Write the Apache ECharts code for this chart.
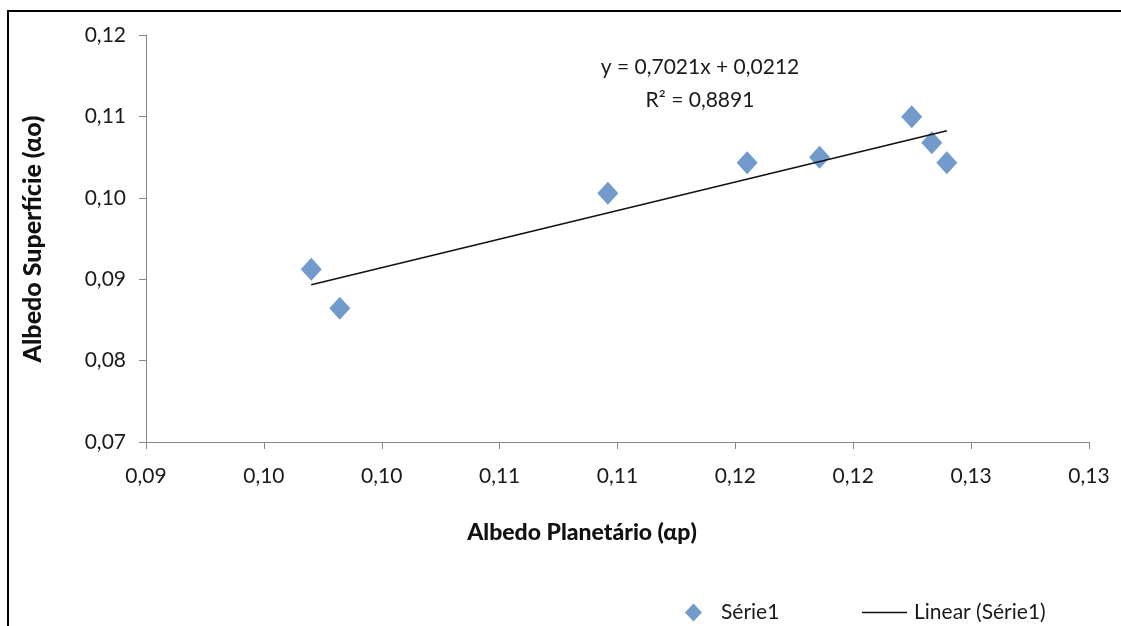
<!DOCTYPE html>
<html>
<head>
<meta charset="utf-8">
<script src="https://cdn.jsdelivr.net/npm/echarts@6/dist/echarts.min.js"></script>
<style>
  html, body { margin: 0; padding: 0; background: #fff; }
  #chart { width: 1121px; height: 626px; }
</style>
</head>
<body>
<div id="chart"></div>
<script>
// Planetary albedo (x) vs surface albedo (y)
const albedoPlanetario = [0.09701, 0.09822, 0.10959, 0.11550, 0.11857, 0.12248, 0.12333, 0.12397];
const albedoSuperficie = [0.09122, 0.08643, 0.10055, 0.10431, 0.10498, 0.10996, 0.10677, 0.10431];

// Linear trend: y = slope * x + intercept, with R²
const trendSlope = 0.7021;
const trendIntercept = 0.0212;
const trendR2 = 0.8891;

// Tick labels as printed (two decimals, comma separator)
const xTickLabels = ['0,09', '0,10', '0,10', '0,11', '0,11', '0,12', '0,12', '0,13', '0,13'];
const yTickLabels = ['0,07', '0,08', '0,09', '0,10', '0,11', '0,12'];

const FONT = 'Lato, "Open Sans", sans-serif';
const fmt = (v) => v.toFixed(4).replace('.', ',');

const points = albedoPlanetario.map((x, i) => [x, albedoSuperficie[i]]);
const xMin = Math.min(...albedoPlanetario);
const xMax = Math.max(...albedoPlanetario);
const trendLine = [xMin, xMax].map(x => [x, trendSlope * x + trendIntercept]);

const chart = echarts.init(document.getElementById('chart'), null, { renderer: 'canvas' });

const axisCommon = {
  axisLine: { show: true, onZero: false, lineStyle: { color: '#868686', width: 1 } },
  axisTick: { show: true, inside: false, length: 7, lineStyle: { color: '#868686' } },
  splitLine: { show: false },
  axisLabel: { color: '#1a1a1a', fontFamily: FONT, fontSize: 21 }
};

chart.setOption({
  animation: false,
  backgroundColor: '#fff',
  grid: { left: 146, right: 32, top: 35, bottom: 184, containLabel: false },
  xAxis: Object.assign({}, axisCommon, {
    type: 'value', min: 0.09, max: 0.13, interval: 0.005,
    axisLabel: Object.assign({}, axisCommon.axisLabel, {
      margin: 24,
      formatter: (v, i) => xTickLabels[i]
    })
  }),
  yAxis: Object.assign({}, axisCommon, {
    type: 'value', min: 0.07, max: 0.12, interval: 0.01,
    axisLabel: Object.assign({}, axisCommon.axisLabel, {
      margin: 20,
      formatter: (v, i) => yTickLabels[i]
    })
  }),
  legend: [
    {
      data: [{ name: 'Série1', icon: 'diamond' }],
      left: 680, top: 597,
      itemWidth: 17, itemHeight: 18,
      textStyle: { fontFamily: FONT, fontSize: 21, color: '#1a1a1a', padding: [0, 0, 0, 14] }
    },
    {
      data: [{ name: 'Linear (Série1)', icon: 'rect' }],
      left: 857, top: 597,
      itemWidth: 45, itemHeight: 1.5,
      textStyle: { fontFamily: FONT, fontSize: 21, color: '#1a1a1a', padding: [0, 0, 0, 2] }
    }
  ],
  series: [
    {
      name: 'Série1',
      type: 'scatter',
      symbol: 'diamond',
      symbolSize: [21, 23],
      itemStyle: { color: '#4F81BD' },
      data: points,
      z: 2
    },
    {
      name: 'Linear (Série1)',
      type: 'line',
      symbol: 'none',
      lineStyle: { color: '#111', width: 1.5 },
      itemStyle: { color: '#111' },
      data: trendLine,
      z: 3
    }
  ],
  graphic: [
    {
      type: 'rect',
      shape: { x: 8, y: 11, width: 1200, height: 700 },
      style: { fill: 'none', stroke: '#000', lineWidth: 2 },
      silent: true
    },
    {
      type: 'text',
      x: 700, y: 67,
      style: {
        text: 'y = ' + fmt(trendSlope) + 'x + ' + fmt(trendIntercept),
        font: '21px ' + FONT, fill: '#1a1a1a', align: 'center', verticalAlign: 'middle'
      }
    },
    {
      type: 'text',
      x: 700, y: 100,
      style: {
        text: 'R² = ' + fmt(trendR2),
        font: '21px ' + FONT, fill: '#1a1a1a', align: 'center', verticalAlign: 'middle'
      }
    },
    {
      type: 'text',
      x: 582, y: 533,
      style: {
        text: 'Albedo Planetário (αp)',
        font: '900 23px ' + FONT, fill: '#111', align: 'center', verticalAlign: 'middle'
      }
    },
    {
      type: 'text',
      x: 33, y: 239,
      rotation: Math.PI / 2,
      style: {
        text: 'Albedo Superfície (αo)',
        font: '900 25px ' + FONT, fill: '#111', align: 'center', verticalAlign: 'middle'
      }
    }
  ]
});
</script>
</body>
</html>
